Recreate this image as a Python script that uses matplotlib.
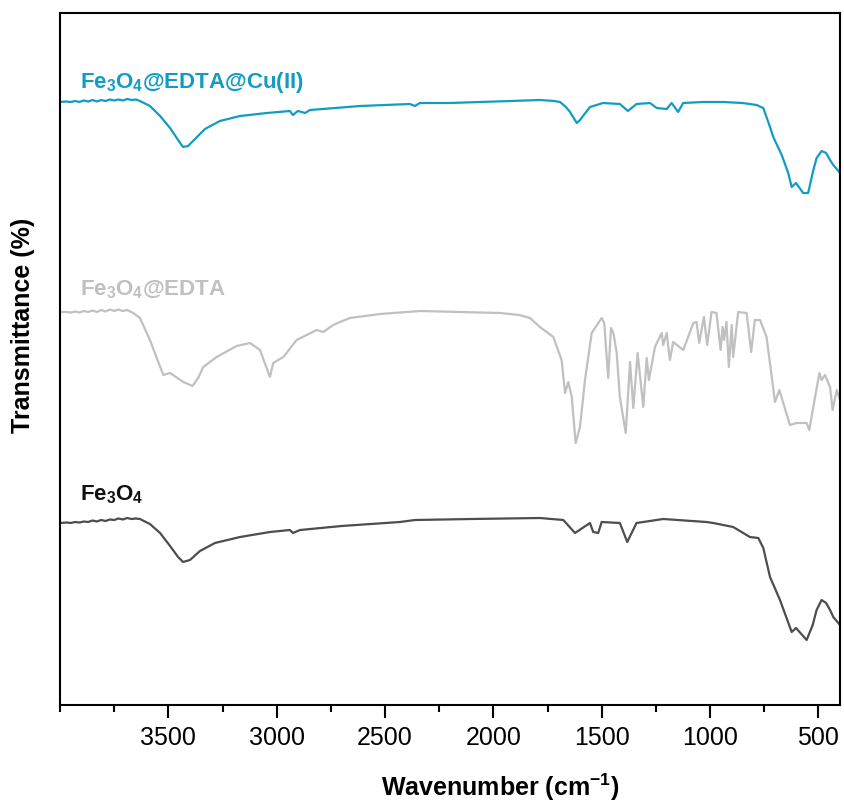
import matplotlib
matplotlib.use("Agg")
import matplotlib.pyplot as plt
from matplotlib.ticker import MultipleLocator

plt.rcParams['font.family'] = ['Liberation Sans', 'DejaVu Sans']
plt.rcParams['mathtext.fontset'] = 'custom'
plt.rcParams['mathtext.rm'] = 'Liberation Sans'
plt.rcParams['mathtext.bf'] = 'Liberation Sans:bold'
plt.rcParams['mathtext.default'] = 'regular'

# ---- data (wavenumber in cm^-1, transmittance in arbitrary offset units) ----
wn_cu = [4000, 3970, 3950, 3930, 3910, 3890, 3870, 3850, 3830, 3810, 3790, 3770,
         3750, 3730, 3710, 3690, 3670, 3650,
         3631, 3585, 3538, 3492, 3455, 3432, 3409, 3377, 3331, 3262, 3169, 3045,
         2939, 2925, 2902, 2869, 2846, 2730, 2615, 2500, 2385, 2362, 2339, 2200,
         2062, 1920, 1785, 1720, 1692,
         1665, 1646, 1615, 1600, 1586, 1554, 1494, 1416, 1379, 1339, 1277, 1246,
         1200, 1177, 1147, 1124, 1030, 939, 850, 785, 754, 723, 708, 669, 639,
         623, 603, 570, 547, 523, 508, 485, 464, 446, 431, 415, 400]
t_cu = [603, 603.5, 603, 604, 603, 604.5, 603.5, 605, 603.5, 605, 604, 605.5,
        604.5, 605.5, 604.5, 606, 605, 605.5,
        604, 599, 589, 577, 565, 558, 559, 566, 576, 584, 589, 592,
        594, 590, 594, 592, 595, 597, 599, 600, 601, 599, 602, 602,
        603, 604, 605, 604, 603,
        598, 593, 582, 585, 589, 598, 602, 601, 594, 601, 602, 597,
        596, 602, 593, 602, 603, 603, 602, 600, 597, 578, 568, 550, 532,
        518, 522, 512, 512, 535, 547, 554, 552, 545, 540, 536, 532]

wn_edta = [4000, 3970, 3950, 3930, 3910, 3890, 3870, 3850, 3830, 3810, 3790, 3770,
           3750, 3730, 3710, 3690, 3662,
           3631, 3585, 3550, 3523, 3492, 3431, 3388, 3360, 3339, 3277, 3185,
           3123, 3077, 3031, 3016, 2969, 2908, 2815, 2785, 2739, 2708, 2662, 2523,
           2338, 2154, 1969, 1880, 1831, 1785, 1723, 1685, 1669, 1654, 1638, 1620,
           1600, 1577, 1546, 1500, 1488, 1470, 1457, 1446, 1431, 1416, 1389, 1369,
           1354, 1334, 1308, 1292, 1282, 1254, 1223, 1216, 1200, 1185, 1170, 1123,
           1077, 1062, 1050, 1028, 1013, 993, 970, 951, 942, 935, 924, 913, 900,
           893, 870, 831, 810, 793, 769, 739, 700, 680, 631, 600, 554, 542, 515,
           495, 485, 469, 446, 434, 415, 400]
t_edta = [393, 393, 392.5, 393.5, 392.5, 394, 393, 394.5, 393, 395, 393.5, 395.5,
          394, 395.5, 394, 395, 392,
          387, 365, 345, 330, 332, 323, 319, 328, 338, 348, 359,
          362, 355, 328, 342, 348, 365, 375, 373, 380, 383, 387, 391,
          394, 393, 392, 390, 387, 378, 368, 345, 312, 323, 308, 262,
          278, 325, 372, 387, 382, 327, 377, 372, 353, 308, 272, 343,
          297, 352, 298, 347, 325, 358, 372, 360, 372, 345, 363, 355,
          382, 383, 362, 388, 360, 393, 392, 355, 378, 365, 383, 338, 380,
          348, 393, 392, 353, 385, 385, 368, 303, 315, 280, 282, 282, 275, 308,
          332, 325, 330, 318, 295, 315, 305]

wn_fe = [4000, 3970, 3950, 3930, 3910, 3890, 3870, 3850, 3830, 3810, 3790, 3770,
         3750, 3730, 3710, 3690, 3670, 3650,
         3631, 3585, 3538, 3492, 3455, 3432, 3400, 3354, 3285, 3169, 3031, 2939,
         2925, 2892, 2700, 2431, 2362, 2100, 1785, 1677, 1623, 1554, 1539, 1516,
         1500, 1416, 1382, 1339, 1216, 1016, 985, 893, 816, 777, 754, 723, 677,
         623, 603, 554, 526, 508, 485, 464, 446, 431, 400]
t_fe = [182, 182.5, 182, 183, 182.5, 183.5, 183, 184.5, 183.5, 185, 184, 185.5,
        185, 186.5, 185.5, 187, 186, 186.5,
        186, 181, 172, 159, 148, 143, 145, 154, 162, 168, 173, 175,
        172, 175, 179, 183, 185, 186, 187, 185, 172, 182, 173, 172,
        183, 182, 163, 182, 186, 183, 182, 178, 168, 167, 157, 128, 105,
        73, 77, 65, 80, 95, 105, 102, 95, 88, 80]

series_names = ["Fe$_3$O$_4$@EDTA@Cu(II)", "Fe$_3$O$_4$@EDTA", "Fe$_3$O$_4$"]
xticks = [3500, 3000, 2500, 2000, 1500, 1000, 500]

# ---- styles ----
c_cu = '#129cc3'
c_edta = '#c0c0c0'
c_fe = '#4d4d4d'

fig = plt.figure(figsize=(8.44, 8.07), dpi=100)
ax = fig.add_axes([60/844, 1-705/807, 780/844, 692/807])

kw = dict(lw=1.6, solid_joinstyle='round', solid_capstyle='round')
ax.plot(wn_cu, t_cu, color=c_cu, **kw)
ax.plot(wn_edta, t_edta, color=c_edta, **kw)
ax.plot(wn_fe, t_fe, color=c_fe, **kw)

ax.set_xlim(4000, 400)
ax.set_ylim(0, 692)
ax.set_xticks(xticks)
ax.xaxis.set_minor_locator(MultipleLocator(250))
ax.set_yticks([])
ax.tick_params(axis='x', which='major', direction='out', length=9, width=1.5,
               labelsize=18, pad=6)
ax.tick_params(axis='x', which='minor', direction='out', length=5, width=1.5)
for s in ax.spines.values():
    s.set_linewidth(1.5)

ax.text(0.0256, 0.8916, series_names[0], transform=ax.transAxes, color=c_cu,
        fontsize=16, fontweight='bold', va='baseline', ha='left')
ax.text(0.0256, 0.5925, series_names[1], transform=ax.transAxes, color=c_edta,
        fontsize=16, fontweight='bold', va='baseline', ha='left')
ax.text(0.0256, 0.296, series_names[2], transform=ax.transAxes, color='#111111',
        fontsize=16, fontweight='bold', va='baseline', ha='left')

ax.set_xlabel("Wavenumber (cm$^{\u2212 1}$)", fontsize=18, fontweight='bold',
              va='baseline')
ax.set_ylabel("Transmittance (%)", fontsize=18, fontweight='bold')
ax.xaxis.set_label_coords(0.564, -0.1315)
ax.yaxis.set_label_coords(-0.032, 0.548)

fig.savefig("out.png", dpi=100)
